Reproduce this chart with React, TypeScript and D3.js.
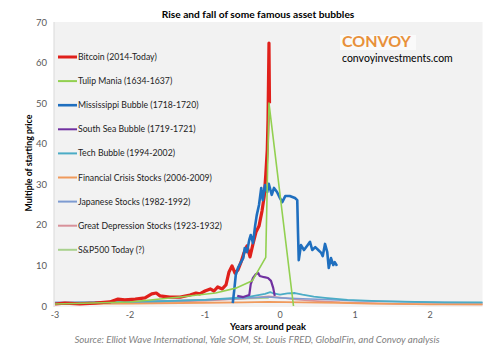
import React from "react";
import * as d3 from "d3";

type P = [number, number];

const seriesNames = [
  "Bitcoin (2014-Today)",
  "Tulip Mania (1634-1637)",
  "Mississippi Bubble (1718-1720)",
  "South Sea Bubble (1719-1721)",
  "Tech Bubble (1994-2002)",
  "Financial Crisis Stocks (2006-2009)",
  "Japanese Stocks (1982-1992)",
  "Great Depression Stocks (1923-1932)",
  "S&P500 Today (?)",
];

const seriesColors = [
  "#e0201b",
  "#92d050",
  "#1f6fbf",
  "#7030a0",
  "#4bacc6",
  "#f09a5c",
  "#7d9bd1",
  "#d8919a",
  "#a9d18e",
];

const bitcoin: P[] = [
  [-3.0, 0.5], [-2.87, 0.7], [-2.67, 0.5], [-2.47, 0.7], [-2.27, 1.0], [-2.16, 1.7],
  [-2.07, 1.5], [-1.93, 1.7], [-1.8, 2.0], [-1.71, 3.0], [-1.65, 3.2], [-1.6, 2.5],
  [-1.47, 2.2], [-1.33, 2.2], [-1.2, 2.7], [-1.12, 3.2], [-1.07, 3.0], [-1.0, 3.7],
  [-0.93, 4.2], [-0.88, 3.7], [-0.83, 4.7], [-0.77, 4.2], [-0.72, 5.2], [-0.68, 8.4],
  [-0.64, 9.9], [-0.6, 8.1], [-0.56, 8.9], [-0.52, 10.8], [-0.48, 13.1], [-0.44, 14.8],
  [-0.4, 12.1], [-0.36, 15.3], [-0.32, 18.2], [-0.28, 19.7], [-0.24, 23.4], [-0.21, 27.1],
  [-0.19, 32.3], [-0.17, 38.5], [-0.16, 45.8], [-0.147, 64.8], [-0.14, 50.0],
];

const tulip: P[] = [
  [-3.0, 0.5], [-2.0, 1.0], [-1.33, 2.2], [-0.86, 3.2], [-0.59, 4.4], [-0.37, 6.2],
  [-0.19, 12.0], [-0.147, 50.0], [0.18, 0.0],
];

const mississippi: P[] = [
  [-0.63, 0.7], [-0.61, 3.9], [-0.59, 7.6], [-0.56, 9.4], [-0.52, 10.8], [-0.49, 11.8],
  [-0.47, 14.3], [-0.44, 13.3], [-0.41, 16.3], [-0.39, 17.5], [-0.36, 15.5], [-0.33, 20.0],
  [-0.31, 22.4], [-0.28, 24.9], [-0.25, 29.1], [-0.23, 26.1], [-0.2, 29.8], [-0.17, 28.1],
  [-0.15, 30.1], [-0.11, 27.4], [-0.08, 29.1], [-0.04, 28.1], [0.0, 26.6], [0.03, 25.6],
  [0.07, 27.1], [0.13, 27.1], [0.2, 26.6], [0.23, 26.1], [0.24, 18.2], [0.25, 11.3],
  [0.28, 15.0], [0.32, 13.8], [0.36, 14.8], [0.4, 15.8], [0.43, 13.8], [0.47, 14.5],
  [0.51, 13.8], [0.55, 13.1], [0.57, 12.3], [0.6, 15.3], [0.63, 13.3], [0.65, 9.4],
  [0.68, 11.8], [0.71, 10.1], [0.73, 10.8], [0.76, 9.9],
];

const southSea: P[] = [
  [-0.57, 2.5], [-0.49, 2.2], [-0.41, 2.7], [-0.39, 5.4], [-0.36, 6.9], [-0.32, 7.9],
  [-0.29, 8.1], [-0.27, 7.4], [-0.21, 7.1], [-0.16, 6.9], [-0.12, 6.2], [-0.09, 4.4],
  [-0.07, 2.5],
];

const tech: P[] = [
  [-3.0, 0.7], [-2.5, 0.8], [-2.0, 1.0], [-1.5, 1.2], [-1.0, 1.5], [-0.6, 2.0],
  [-0.4, 2.3], [-0.2, 3.0], [-0.13, 3.4], [-0.1, 3.2], [0.0, 2.8], [0.1, 3.1],
  [0.2, 3.2], [0.3, 2.8], [0.45, 2.3], [0.6, 2.0], [0.9, 1.5], [1.3, 1.2],
  [1.8, 1.0], [2.2, 0.9], [2.7, 0.9],
];

const financial: P[] = [
  [-3.0, 0.5], [-2.0, 0.6], [-1.0, 0.8], [-0.5, 0.9], [-0.15, 1.0], [0.3, 0.9],
  [0.8, 0.8], [1.2, 0.6], [1.6, 0.5], [2.0, 0.4], [2.7, 0.4],
];

const japanese: P[] = [
  [-3.0, 0.9], [-2.5, 1.0], [-2.0, 1.1], [-1.5, 1.3], [-1.0, 1.5], [-0.5, 1.9],
  [-0.15, 2.2], [0.0, 2.0], [0.3, 1.8], [0.6, 1.6], [1.0, 1.3], [1.5, 1.1],
  [2.0, 0.9], [2.7, 0.8],
];

const greatDepression: P[] = [
  [-3.0, 0.6], [-2.0, 0.8], [-1.5, 1.0], [-1.0, 1.3], [-0.5, 1.8], [-0.15, 2.4],
  [0.0, 2.1], [0.2, 1.6], [0.5, 1.2], [0.8, 0.9], [1.2, 0.7], [1.6, 0.5], [2.7, 0.4],
];

const sp500: P[] = [
  [-3.0, 0.8], [-2.0, 1.0], [-1.5, 1.2], [-1.0, 1.5], [-0.5, 1.8], [-0.15, 2.0],
];

const seriesData: P[][] = [
  bitcoin, tulip, mississippi, southSea, tech, financial, japanese, greatDepression, sp500,
];
const seriesWidths = [3.2, 1.6, 2.6, 2.2, 1.8, 1.8, 1.6, 1.6, 1.6];
const drawOrder = [8, 7, 6, 5, 4, 3, 0, 2, 1];

const yTicks = [0, 10, 20, 30, 40, 50, 60, 70];
const xTicks = [-3, -2, -1, 0, 1, 2];

const title = "Rise and fall of some famous asset bubbles";
const xTitle = "Years around peak";
const yTitle = "Multiple of starting price";
const source =
  "Source: Elliot Wave International, Yale SOM, St. Louis FRED, GlobalFin, and Convoy analysis";

export default function App() {
  const W = 499;
  const H = 353;
  const left = 54;
  const right = 482.5;
  const top = 22;
  const bottom = 307;
  const x = d3.scaleLinear().domain([-3, 2.7]).range([55, 482.5]);
  const y = d3.scaleLinear().domain([0, 70]).range([306, 22]);
  const line = d3
    .line<P>()
    .x((d) => x(d[0]))
    .y((d) => y(d[1]))
    .curve(d3.curveLinear);
  const font = "Lato, 'Open Sans', sans-serif";

  return (
    <svg
      width={W}
      height={H}
      style={{ position: "absolute", left: 0, top: 0, background: "#fff" }}
      fontFamily={font}
    >
      <rect x={0} y={0} width={W} height={H} fill="#fff" />
      <rect x={left} y={top} width={right - left} height={bottom - top} fill="#f2f2f2" />
      <line x1={left} x2={left} y1={top} y2={bottom} stroke="#d9d9d9" strokeWidth={1} />

      <text x={258} y={18} textAnchor="middle" fontSize={10.2} fontWeight="bold" fill="#000">
        {title}
      </text>

      {yTicks.map((t) => (
        <text key={t} x={47} y={y(t) + 3.5} textAnchor="end" fontSize={9.5} fill="#595959">
          {t}
        </text>
      ))}
      {xTicks.map((t) => (
        <text key={t} x={x(t)} y={318} textAnchor="middle" fontSize={9} fill="#595959">
          {t}
        </text>
      ))}

      <text
        transform={`translate(32,163) rotate(-90)`}
        textAnchor="middle"
        fontSize={8.8}
        fontWeight="bold"
        fill="#000"
      >
        {yTitle}
      </text>
      <text x={268} y={329.5} textAnchor="middle" fontSize={9.3} fontWeight="bold" fill="#000">
        {xTitle}
      </text>
      <text x={257} y={342.5} textAnchor="middle" fontSize={9.7} fontStyle="italic" fill="#7f7f7f">
        {source}
      </text>

      <rect x={340} y={35} width={76} height={15} fill="#fafafa" />
      <text x={342} y={47} fontSize={16} fontWeight="bold" fill="#e8913a">
        CONVOY
      </text>
      <text x={342} y={61.5} fontSize={10.5} fill="#000">
        convoyinvestments.com
      </text>

      {drawOrder.map((i) => (
        <path
          key={i}
          d={line(seriesData[i]) || ""}
          fill="none"
          stroke={seriesColors[i]}
          strokeWidth={seriesWidths[i]}
          strokeLinejoin="round"
        />
      ))}

      {seriesNames.map((name, i) => {
        const ly = 57 + i * 24.1;
        return (
          <g key={name}>
            <line
              x1={58}
              x2={77}
              y1={ly}
              y2={ly}
              stroke={seriesColors[i]}
              strokeWidth={i === 0 ? 3 : i === 2 ? 2.6 : 2}
            />
            <text x={78} y={ly + 3} fontSize={8.7} fill="#222">
              {name}
            </text>
          </g>
        );
      })}
    </svg>
  );
}
